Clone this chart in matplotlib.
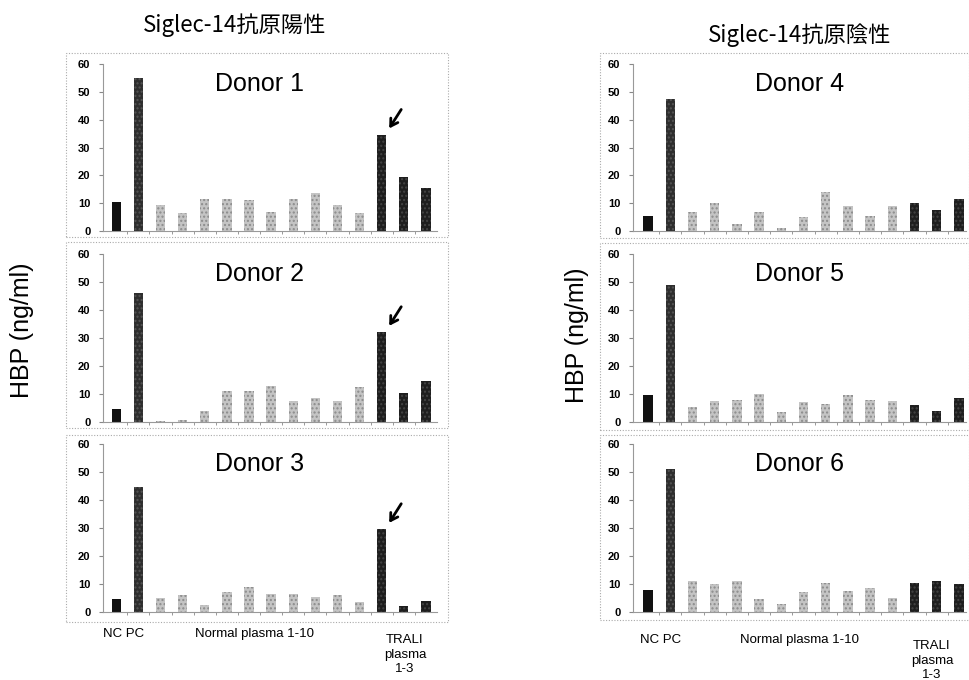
import matplotlib

matplotlib.use("Agg")
import matplotlib.pyplot as plt
from matplotlib.patches import Rectangle

plt.rcParams["font.family"] = ["Liberation Sans", "Noto Sans CJK JP", "DejaVu Sans"]

W, H = 970, 680

# bar order: NC, PC, normal plasma 1-10, TRALI plasma 1-3
donor1 = [10.5, 55, 9.5, 6.5, 11.5, 11.5, 11, 7, 11.5, 13.5, 9.5, 6.5, 34.5, 19.5, 15.5]
donor2 = [4.5, 46, 0.3, 0.8, 4, 11, 11, 13, 7.5, 8.5, 7.5, 12.5, 32, 10.5, 14.5]
donor3 = [4.5, 44.5, 5, 6, 2.5, 7, 9, 6.5, 6.5, 5.5, 6, 3.5, 29.5, 2, 4]
donor4 = [5.5, 47.5, 7, 10, 2.5, 7, 1, 5, 14, 9, 5.5, 9, 10, 7.5, 11.5]
donor5 = [9.5, 49, 5.5, 7.5, 8, 10, 3.5, 7, 6.5, 9.5, 8, 7.5, 6, 4, 8.5]
donor6 = [8, 51, 11, 10, 11, 4.5, 3, 7, 10.5, 7.5, 8.5, 5, 10.5, 11, 10]

left_donors = [("Donor 1", donor1), ("Donor 2", donor2), ("Donor 3", donor3)]
right_donors = [("Donor 4", donor4), ("Donor 5", donor5), ("Donor 6", donor6)]
left_title = "Siglec-14抗原陽性"
right_title = "Siglec-14抗原陰性"
y_label = "HBP (ng/ml)"
y_ticks = [0, 10, 20, 30, 40, 50, 60]
group_labels = ["NC PC", "Normal plasma 1-10", "TRALI\nplasma\n1-3"]
arrow_bar = 12  # highlighted TRALI plasma in the positive donors


def px_box(x0, y0, x1, y1):
    """pixel box (top-left origin) -> figure fraction rect"""
    return [x0 / W, 1 - y1 / H, (x1 - x0) / W, (y1 - y0) / H]


def bar_style(i):
    if i == 0:
        return dict(color="#111111")
    if i == 1:
        return dict(color="#2e2e2e", hatch="....", edgecolor="#555555", linewidth=0)
    if i >= 12:
        return dict(color="#1e1e1e", hatch="....", edgecolor="#444444", linewidth=0)
    return dict(color="#c4c4c4", hatch="....", edgecolor="#8c8c8c", linewidth=0)


def draw_panel(fig, rect, name, values, xlim, arrow, name_x):
    ax = fig.add_axes(rect)
    xs = range(len(values))
    for i, v in zip(xs, values):
        ax.bar(i, v, width=0.42, **bar_style(i))
    ax.set_ylim(0, 60)
    ax.set_xlim(*xlim)
    ax.set_yticks(y_ticks)
    ax.set_yticklabels([str(t) for t in y_ticks], fontsize=8, fontweight="bold")
    ax.set_xticks([])
    ax.set_xticks([i + 0.5 for i in xs][:-1], minor=True)
    ax.tick_params(axis="x", which="minor", length=2, color="#888888")
    ax.tick_params(axis="y", length=3, color="#888888", pad=6)
    for s in ("top", "right"):
        ax.spines[s].set_visible(False)
    for s in ("left", "bottom"):
        ax.spines[s].set_color("#999999")
        ax.spines[s].set_linewidth(0.8)
    ax.text(name_x, 0.88, name, transform=ax.transAxes, ha="center", va="center",
            fontsize=18)
    if arrow:
        top = values[arrow_bar]
        ax.annotate("", xy=(arrow_bar + 0.27, top + 1.5),
                    xytext=(arrow_bar + 0.95, top + 10),
                    arrowprops=dict(arrowstyle="->,head_length=0.5,head_width=0.3",
                                    color="black", lw=2))
    return ax


fig = plt.figure(figsize=(W / 100, H / 100), dpi=100)

rows = [(64, 231), (254, 422), (444, 612)]
left_frames = [(66, 53, 448, 237), (66, 242, 448, 428), (66, 435, 448, 622)]
right_frames = [(600, 53, 969, 238), (600, 243, 969, 430), (600, 435, 969, 620)]

for (y0, y1), (name, vals) in zip(rows, left_donors):
    draw_panel(fig, px_box(103, y0, 437, y1), name, vals, (-0.6, 14.5), True, 0.47)
for (y0, y1), (name, vals) in zip(rows, right_donors):
    draw_panel(fig, px_box(633, y0, 966, y1), name, vals, (-0.68, 14.32), False, 0.5)

for fx0, fy0, fx1, fy1 in left_frames + right_frames:
    r = px_box(fx0, fy0, fx1, fy1)
    fig.patches.append(Rectangle((r[0], r[1]), r[2], r[3], transform=fig.transFigure,
                                 fill=False, edgecolor="#aaaaaa", linewidth=0.8,
                                 linestyle=(0, (1, 1.5))))

fig.text(235 / W, 1 - 25 / H, left_title, ha="center", va="center", fontsize=16,
         family=["Noto Sans CJK JP", "DejaVu Sans"])
fig.text(800 / W, 1 - 35 / H, right_title, ha="center", va="center", fontsize=16,
         family=["Noto Sans CJK JP", "DejaVu Sans"])
fig.text(22 / W, 1 - 330 / H, y_label, ha="center", va="center", rotation=90, fontsize=18)
fig.text(577 / W, 1 - 335 / H, y_label, ha="center", va="center", rotation=90, fontsize=18)

left_lbl_x = [124, 255, 405]
right_lbl_x = [661, 800, 932]
for xs, y in ((left_lbl_x, 634), (right_lbl_x, 640)):
    for x, lbl in zip(xs, group_labels):
        fig.text(x / W, 1 - y / H, lbl, ha="center", va="top" if "\n" in lbl else "center",
                 fontsize=9.5, linespacing=1.3)

fig.savefig("out.png", dpi=100)
